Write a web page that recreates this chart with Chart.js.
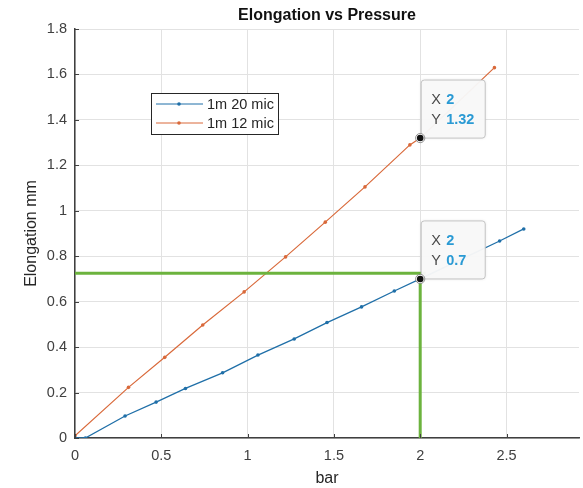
<!DOCTYPE html>
<html>
<head>
<meta charset="utf-8">
<script src="https://cdn.jsdelivr.net/npm/chart.js@4"></script>
<style>
  html, body { margin: 0; padding: 0; background: #ffffff; }
  #wrap { width: 583px; height: 488px; }
</style>
</head>
<body>
<div id="wrap"><canvas id="c" width="583" height="488"></canvas></div>
<script>
// ---- data ----
const seriesLabels = ['1m 20 mic', '1m 12 mic'];
const blueX = [0, 0.06, 0.29, 0.47, 0.64, 0.855, 1.06, 1.27, 1.46, 1.66, 1.85, 2.0, 2.46, 2.60];
const blueY = [0, 0.0, 0.097, 0.158, 0.218, 0.287, 0.365, 0.436, 0.508, 0.577, 0.647, 0.70, 0.867, 0.92];
const orangeX = [0, 0.31, 0.52, 0.74, 0.98, 1.22, 1.45, 1.68, 1.94, 2.0, 2.43];
const orangeY = [0.01, 0.223, 0.355, 0.497, 0.643, 0.797, 0.95, 1.105, 1.29, 1.32, 1.63];
const guideHX = [0, 2.03];
const guideHY = [0.725, 0.725];
const guideVX = [2.0, 2.0];
const guideVY = [0.725, 0];
const tipX = [2, 2];
const tipY = [1.32, 0.7];
const tipXLabels = ['2', '2'];
const tipYLabels = ['1.32', '0.7'];
const xTicks = [0, 0.5, 1, 1.5, 2, 2.5];
const xTickLabels = ['0', '0.5', '1', '1.5', '2', '2.5'];
const yTicks = [0, 0.2, 0.4, 0.6, 0.8, 1, 1.2, 1.4, 1.6, 1.8];
const yTickLabels = ['0', '0.2', '0.4', '0.6', '0.8', '1', '1.2', '1.4', '1.6', '1.8'];
const titleText = 'Elongation vs Pressure';
const xTitle = 'bar';
const yTitle = 'Elongation mm';

const FONT = '"Liberation Sans", Arial, Helvetica, sans-serif';
const BLUE = '#1f6fa8';
const ORANGE = '#d9693a';
const GREEN = '#6cb33e';
const AXIS = '#404040';

const pts = (xs, ys) => xs.map((x, i) => ({ x: x, y: ys[i] }));

const plotTitle = {
  id: 'plotTitle',
  afterDraw(chart) {
    const { ctx, chartArea: a } = chart;
    ctx.save();
    ctx.font = 'bold 16px ' + FONT;
    ctx.fillStyle = '#111111';
    ctx.textAlign = 'center';
    ctx.textBaseline = 'middle';
    ctx.fillText(titleText, (a.left + a.right) / 2, a.top - 13);
    ctx.restore();
  }
};

const inwardTicks = {
  id: 'inwardTicks',
  afterDatasetsDraw(chart) {
    const { ctx, chartArea: a, scales: { x, y } } = chart;
    ctx.save();
    ctx.strokeStyle = AXIS;
    ctx.lineWidth = 1;
    yTicks.forEach(v => {
      const py = Math.round(y.getPixelForValue(v)) + 0.5;
      ctx.beginPath(); ctx.moveTo(a.left, py); ctx.lineTo(a.left + 4, py); ctx.stroke();
    });
    xTicks.forEach(v => {
      const px = Math.round(x.getPixelForValue(v)) + 0.5;
      ctx.beginPath(); ctx.moveTo(px, a.bottom); ctx.lineTo(px, a.bottom - 4); ctx.stroke();
    });
    ctx.restore();
  }
};

const legendBox = {
  id: 'legendBox',
  afterDraw(chart) {
    const { ctx } = chart;
    const ds = [chart.data.datasets[0], chart.data.datasets[1]];
    const bx = 151, by = 93, bw = 127, bh = 41;
    ctx.save();
    ctx.fillStyle = '#ffffff';
    ctx.fillRect(bx, by, bw, bh);
    ctx.strokeStyle = '#262626';
    ctx.lineWidth = 1;
    ctx.strokeRect(bx + 0.5, by + 0.5, bw, bh);
    ds.forEach((d, i) => {
      const cy = by + 11 + i * 19;
      ctx.strokeStyle = d.borderColor;
      ctx.lineWidth = 1;
      ctx.beginPath(); ctx.moveTo(bx + 5, cy); ctx.lineTo(bx + 52, cy); ctx.stroke();
      ctx.fillStyle = d.borderColor;
      ctx.beginPath(); ctx.arc(bx + 28, cy, 1.8, 0, Math.PI * 2); ctx.fill();
      ctx.fillStyle = '#262626';
      ctx.font = '14.5px ' + FONT;
      ctx.textBaseline = 'middle';
      ctx.textAlign = 'left';
      ctx.fillText(d.label, bx + 56, cy + 0.5);
    });
    ctx.restore();
  }
};

const dataTips = {
  id: 'dataTips',
  afterDraw(chart) {
    const { ctx, scales: { x, y } } = chart;
    ctx.save();
    tipX.forEach((tx, i) => {
      const px = x.getPixelForValue(tx);
      const py = y.getPixelForValue(tipY[i]);
      const bw = 64, bh = 58;
      const left = px + 1, top = py - bh;
      ctx.shadowColor = 'rgba(0,0,0,0.15)';
      ctx.shadowBlur = 3;
      ctx.fillStyle = 'rgba(249,249,249,0.96)';
      ctx.beginPath();
      ctx.roundRect(left, top, bw, bh, 3);
      ctx.fill();
      ctx.shadowColor = 'transparent';
      ctx.strokeStyle = '#c4c4c4';
      ctx.lineWidth = 1;
      ctx.stroke();
      ctx.textBaseline = 'middle';
      ctx.textAlign = 'left';
      ctx.font = '14.5px ' + FONT;
      ctx.fillStyle = '#4a4a4a';
      ctx.fillText('X', left + 10, top + 20);
      ctx.fillText('Y', left + 10, top + 40);
      ctx.font = 'bold 14.5px ' + FONT;
      ctx.fillStyle = '#2a9ad4';
      ctx.fillText(tipXLabels[i], left + 25, top + 20);
      ctx.fillText(tipYLabels[i], left + 25, top + 40);
      // marker
      ctx.fillStyle = '#ffffff';
      ctx.beginPath(); ctx.arc(px, py, 4.5, 0, Math.PI * 2); ctx.fill();
      ctx.fillStyle = '#111111';
      ctx.beginPath(); ctx.arc(px, py, 3.3, 0, Math.PI * 2); ctx.fill();
      ctx.strokeStyle = '#777';
      ctx.lineWidth = 0.8;
      ctx.beginPath(); ctx.arc(px, py, 4.6, 0, Math.PI * 2); ctx.stroke();
    });
    ctx.restore();
  }
};

new Chart(document.getElementById('c'), {
  type: 'scatter',
  data: {
    datasets: [
      { label: seriesLabels[0], data: pts(blueX, blueY), showLine: true, borderColor: BLUE, backgroundColor: BLUE,
        borderWidth: 1.3, pointRadius: 1.8, pointBorderWidth: 0, order: 2 },
      { label: seriesLabels[1], data: pts(orangeX, orangeY), showLine: true, borderColor: ORANGE, backgroundColor: ORANGE,
        borderWidth: 1.2, pointRadius: 1.8, pointBorderWidth: 0, order: 3 },
      { label: 'guideH', data: pts(guideHX, guideHY), showLine: true, borderColor: GREEN, borderWidth: 3,
        pointRadius: 0, order: 1 },
      { label: 'guideV', data: pts(guideVX, guideVY), showLine: true, borderColor: GREEN, borderWidth: 3,
        pointRadius: 0, order: 1 }
    ]
  },
  options: {
    responsive: false,
    animation: false,
    devicePixelRatio: 1,
    layout: { padding: { left: 0, right: 1, top: 29, bottom: 0 } },
    plugins: {
      legend: { display: false },
      tooltip: { enabled: false },
      title: { display: false }
    },
    scales: {
      x: {
        type: 'linear', min: 0, max: 2.92,
        afterBuildTicks: s => { s.ticks = xTicks.map(v => ({ value: v })); },
        afterFit: s => { s.height = 50; },
        ticks: { color: '#404040', font: { family: FONT, size: 14.5 }, padding: 9, maxRotation: 0,
          callback: (v, i) => xTickLabels[i] },
        grid: { color: '#e2e2e2', drawTicks: false },
        border: { color: AXIS, width: 1.5 },
        title: { display: true, text: xTitle, color: '#262626', font: { family: FONT, size: 16 },
          padding: { top: 0, bottom: 0 } }
      },
      y: {
        type: 'linear', min: 0, max: 1.8,
        afterBuildTicks: s => { s.ticks = yTicks.map(v => ({ value: v })); },
        afterFit: s => { s.width = 75; },
        ticks: { color: '#404040', font: { family: FONT, size: 14.5 }, padding: 8,
          callback: (v, i) => yTickLabels[i] },
        grid: { color: '#e2e2e2', drawTicks: false },
        border: { color: AXIS, width: 1.5 },
        title: { display: true, text: yTitle, color: '#262626', font: { family: FONT, size: 16 },
          padding: { top: 22, bottom: 0 } }
      }
    }
  },
  plugins: [plotTitle, inwardTicks, legendBox, dataTips]
});
</script>
</body>
</html>
